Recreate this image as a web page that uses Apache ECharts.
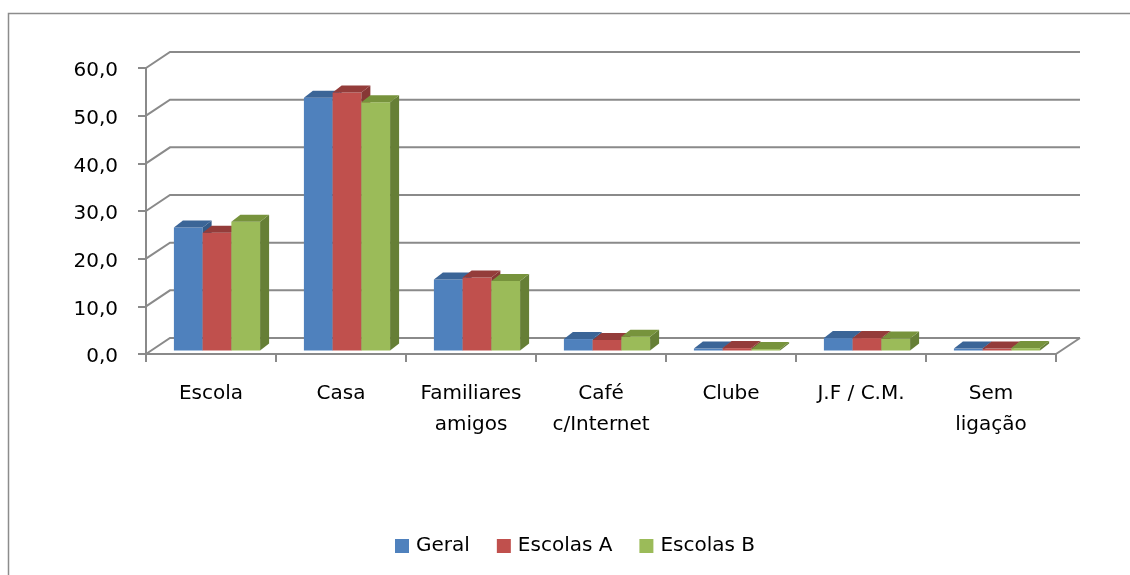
<!DOCTYPE html>
<html>
<head>
<meta charset="utf-8">
<title>Local de ligação à Internet</title>
<script src="https://cdn.jsdelivr.net/npm/echarts@6/dist/echarts.min.js"></script>
<style>
  html, body { margin: 0; padding: 0; background: #ffffff; }
  #chart { width: 1130px; height: 575px; }
</style>
</head>
<body>
<div id="chart"></div>
<script>
// Categories and values (percentages)
const categories = ['Escola', 'Casa', 'Familiares\namigos', 'Café\nc/Internet', 'Clube', 'J.F / C.M.', 'Sem\nligação'];
const geral    = [25.8, 53.0, 14.9, 2.4, 0.4, 2.6, 0.4];
const escolasA = [24.7, 54.1, 15.3, 2.2, 0.5, 2.6, 0.4];
const escolasB = [27.0, 52.1, 14.6, 2.9, 0.3, 2.5, 0.5];
const seriesNames = ['Geral', 'Escolas A', 'Escolas B'];
const yTicks = [0, 10, 20, 30, 40, 50, 60];

const FONT = 'DejaVu Sans';
const LINE = '#8a8a8a';

// Front, top and side face colours for each series
const palette = [
  { front: '#4F81BD', top: '#3B6597', side: '#335A88' },
  { front: '#C0504D', top: '#943C3A', side: '#873735' },
  { front: '#9BBB59', top: '#77933C', side: '#667F36' }
];

// Depth of the back wall relative to the front axes
const WALL_DX = 24, WALL_DY = -16;
// Bar placement within the depth, and bar thickness
const BAR_DX0 = 6, BAR_DY0 = -3.5, BAR_DX = 9, BAR_DY = -7;
const BAR_FRAC = 0.221;

function gridRender(params, api) {
  const v = api.value(1);
  const y = api.coord([0, v])[1];
  const cs = params.coordSys;
  const left = cs.x, right = cs.x + cs.width;
  const children = [{
    type: 'polyline',
    shape: { points: [[left, y], [left + WALL_DX, y + WALL_DY], [right + WALL_DX, y + WALL_DY]] },
    style: { stroke: LINE, lineWidth: 2, fill: null }
  }];
  if (v === 0) {
    children.push({
      type: 'line',
      shape: { x1: right, y1: y, x2: right + WALL_DX, y2: y + WALL_DY },
      style: { stroke: LINE, lineWidth: 2 }
    });
  }
  return { type: 'group', children: children };
}

function barRender(s) {
  const c = palette[s];
  return function (params, api) {
    const ci = api.value(0), v = api.value(1);
    const top = api.coord([ci, v]);
    const base = api.coord([ci, 0]);
    const band = api.size([1, 0])[0];
    const w = band * BAR_FRAC;
    const x0 = top[0] - 1.5 * w + s * w + BAR_DX0;
    const yb = base[1] + BAR_DY0, yt = top[1] + BAR_DY0;
    return {
      type: 'group',
      children: [
        { type: 'rect', shape: { x: x0, y: yt, width: w, height: yb - yt }, style: { fill: c.front } },
        { type: 'polygon', shape: { points: [[x0 + w, yt], [x0 + w + BAR_DX, yt + BAR_DY], [x0 + w + BAR_DX, yb + BAR_DY], [x0 + w, yb]] }, style: { fill: c.side } },
        { type: 'polygon', shape: { points: [[x0, yt], [x0 + BAR_DX, yt + BAR_DY], [x0 + w + BAR_DX, yt + BAR_DY], [x0 + w, yt]] }, style: { fill: c.top } }
      ]
    };
  };
}

const dataSets = [geral, escolasA, escolasB];
const barSeries = dataSets.map((arr, s) => ({
  type: 'custom',
  name: seriesNames[s],
  renderItem: barRender(s),
  itemStyle: { color: palette[s].front },
  encode: { x: 0, y: 1 },
  data: arr.map((v, i) => [i, v]),
  z: 3,
  clip: false
}));

const chart = echarts.init(document.getElementById('chart'), null, { renderer: 'canvas' });
chart.setOption({
  backgroundColor: '#ffffff',
  animation: false,
  textStyle: { fontFamily: FONT },
  graphic: [{
    type: 'rect',
    shape: { x: 8.5, y: 13.5, width: 1400, height: 900 },
    style: { fill: null, stroke: '#8c8c8c', lineWidth: 1.5 },
    silent: true,
    z: -1
  }],
  grid: { left: 146, top: 68, width: 910, height: 286 },
  legend: {
    data: seriesNames,
    left: 390,
    top: 531,
    icon: 'rect',
    itemWidth: 14,
    itemHeight: 14,
    itemGap: 27,
    textStyle: { fontFamily: FONT, fontSize: 20, color: '#000000', padding: [0, 0, 0, 2] }
  },
  xAxis: {
    type: 'category',
    data: categories,
    axisLine: { show: true, lineStyle: { color: LINE, width: 2 } },
    axisTick: { show: true, length: 8, lineStyle: { color: LINE, width: 2 } },
    axisLabel: { interval: 0, fontFamily: FONT, fontSize: 20, lineHeight: 31, margin: 24, color: '#000000' },
    splitLine: { show: false }
  },
  yAxis: {
    type: 'value',
    min: 0,
    max: 60,
    interval: 10,
    axisLine: { show: true, lineStyle: { color: LINE, width: 2 } },
    axisTick: { show: true, length: 8, lineStyle: { color: LINE, width: 2 } },
    axisLabel: {
      margin: 28,
      formatter: v => '{n|' + v.toFixed(1).replace('.', ',') + '}',
      rich: {
        n: { fontFamily: FONT, fontSize: 20, lineHeight: 22, color: '#000000', padding: [6, 0, 0, 0] }
      }
    },
    splitLine: { show: false }
  },
  series: [{
    type: 'custom',
    name: 'paredeFundo',
    renderItem: gridRender,
    encode: { x: 0, y: 1 },
    data: yTicks.map(v => [0, v]),
    silent: true,
    z: 1,
    clip: false
  }].concat(barSeries)
});
</script>
</body>
</html>
